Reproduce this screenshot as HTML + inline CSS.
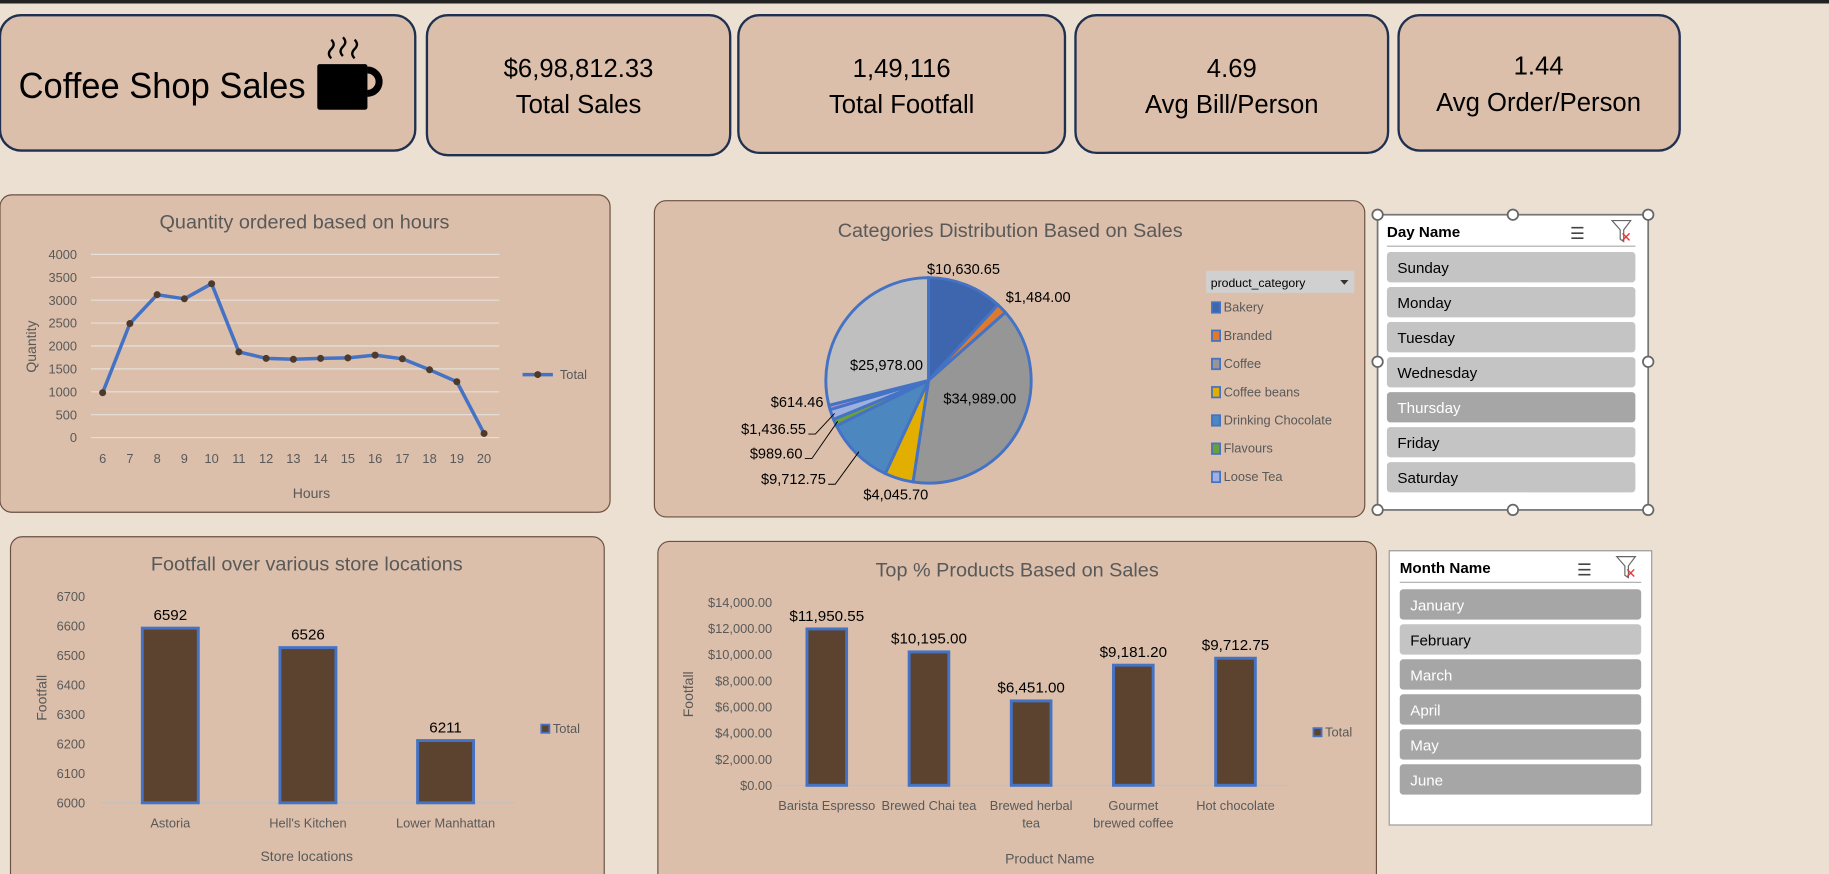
<!DOCTYPE html>
<html><head><meta charset="utf-8"><style>
html,body{margin:0;padding:0;background:#ebe0d2;overflow:hidden}
svg{display:block;font-family:"Liberation Sans",sans-serif}
</style></head><body>
<svg id="s" width="1829" height="874" viewBox="0 0 1568 749" preserveAspectRatio="none">
<rect x="0" y="0" width="1568" height="749" fill="#ebe0d2"/>
<rect x="0" y="0" width="1568" height="3" fill="#222"/>
<g>
<rect x="0" y="13" width="356" height="116" rx="18" fill="#dbbfaa" stroke="#1f3050" stroke-width="2"/>
<text x="16" y="84" font-size="31" fill="#000" textLength="246" lengthAdjust="spacingAndGlyphs">Coffee Shop Sales</text>
<g>
<rect x="272" y="55" width="43" height="39" rx="2" fill="#000"/>
<path d="M315 60 a10 10 0 0 1 0 20" fill="none" stroke="#000" stroke-width="6"/>
<path d="M284 50 q-4 -4 0 -8 q4 -4 0 -8 M294 48 q-4 -4 0 -8 q4 -4 0 -8 M304 50 q-4 -4 0 -8 q4 -4 0 -8" fill="none" stroke="#000" stroke-width="2"/>
</g></g>
<g>
<rect x="366" y="13" width="260" height="120" rx="18" fill="#dbbfaa" stroke="#1f3050" stroke-width="2"/>
<text x="496" y="66" font-size="22" text-anchor="middle">$6,98,812.33</text>
<text x="496" y="97" font-size="22" text-anchor="middle">Total Sales</text></g>
<g>
<rect x="633" y="13" width="280" height="118" rx="18" fill="#dbbfaa" stroke="#1f3050" stroke-width="2"/>
<text x="773" y="66" font-size="22" text-anchor="middle">1,49,116</text>
<text x="773" y="97" font-size="22" text-anchor="middle">Total Footfall</text></g>
<g>
<rect x="922" y="13" width="268" height="118" rx="18" fill="#dbbfaa" stroke="#1f3050" stroke-width="2"/>
<text x="1056" y="66" font-size="22" text-anchor="middle">4.69</text>
<text x="1056" y="97" font-size="22" text-anchor="middle">Avg Bill/Person</text></g>
<g>
<rect x="1199" y="13" width="241" height="116" rx="18" fill="#dbbfaa" stroke="#1f3050" stroke-width="2"/>
<text x="1319" y="64" font-size="22" text-anchor="middle">1.44</text>
<text x="1319" y="95" font-size="22" text-anchor="middle">Avg Order/Person</text></g>

<g id="lineChart">
<rect x="0" y="167" width="523" height="272" rx="10" fill="#dbbfaa" stroke="#6b5040" stroke-width="1"/>
<text x="261" y="196" font-size="17" fill="#595959" text-anchor="middle">Quantity ordered based on hours</text>
<text x="267" y="427" font-size="12" fill="#595959" text-anchor="middle">Hours</text>
<text transform="translate(31,297) rotate(-90)" font-size="12" fill="#595959" text-anchor="middle">Quantity</text>
<g><line x1="448" y1="321" x2="474" y2="321" stroke="#4472c4" stroke-width="3"/><circle cx="461" cy="321" r="3" fill="#4d3a2c"/><text x="480" y="325" font-size="11" fill="#595959">Total</text></g>
</g>

<g id="pieChart">
<rect x="561" y="172" width="609" height="271" rx="10" fill="#dbbfaa" stroke="#6b5040" stroke-width="1"/>
<text x="866" y="203" font-size="17" fill="#595959" text-anchor="middle">Categories Distribution Based on Sales</text>
<g><rect x="1034" y="232" width="127" height="19" fill="#d0d0d0"/><text x="1038" y="246" font-size="10.5" fill="#000">product_category</text><path d="M1149 240 l7 0 l-3.5 4z" fill="#333"/></g>
</g>

<g id="footChart">
<rect x="9" y="460" width="509" height="300" rx="10" fill="#dbbfaa" stroke="#6b5040" stroke-width="1"/>
<text x="263" y="489" font-size="17" fill="#595959" text-anchor="middle">Footfall over various store locations</text>
<text x="263" y="738" font-size="12" fill="#595959" text-anchor="middle">Store locations</text>
<text transform="translate(40,598) rotate(-90)" font-size="12" fill="#595959" text-anchor="middle">Footfall</text>
<g><rect x="464" y="621" width="7" height="7" fill="#5c4330" stroke="#4472c4" stroke-width="1.5"/><text x="474" y="628" font-size="11" fill="#595959">Total</text></g>
</g>

<g id="prodChart">
<rect x="564" y="464" width="616" height="296" rx="10" fill="#dbbfaa" stroke="#6b5040" stroke-width="1"/>
<text x="872" y="494" font-size="17" fill="#595959" text-anchor="middle">Top % Products Based on Sales</text>
<text x="900" y="740" font-size="12" fill="#595959" text-anchor="middle">Product Name</text>
<text transform="translate(594,595) rotate(-90)" font-size="12" fill="#595959" text-anchor="middle">Footfall</text>
<g><rect x="1126" y="624" width="7" height="7" fill="#5c4330" stroke="#4472c4" stroke-width="1.5"/><text x="1136" y="631" font-size="11" fill="#595959">Total</text></g>
</g>

<g id="daySlicer">
<rect x="1181" y="184" width="232" height="253" fill="#fff" stroke="#777" stroke-width="1.5"/>
<text x="1189" y="203" font-size="13" font-weight="bold">Day Name</text>
<line x1="1189" y1="211" x2="1402" y2="211" stroke="#aaa"/>
<text x="1346" y="205" font-size="14" fill="#444">☰</text>
<g><path d="M1382 189 h16 l-6 8 v10 l-3 -2 v-8z" fill="none" stroke="#666"/><path d="M1391 200 l6 6 M1397 200 l-6 6" stroke="#e33" stroke-width="1.2"/></g>
</g>
<g id="monthSlicer">
<rect x="1191" y="472" width="225" height="235" fill="#fff" stroke="#999" stroke-width="1"/>
<text x="1200" y="491" font-size="13" font-weight="bold">Month Name</text>
<line x1="1200" y1="499" x2="1407" y2="499" stroke="#aaa"/>
<text x="1352" y="493" font-size="14" fill="#444">☰</text>
<g><path d="M1386 477 h16 l-6 8 v10 l-3 -2 v-8z" fill="none" stroke="#666"/><path d="M1395 488 l6 6 M1401 488 l-6 6" stroke="#e33" stroke-width="1.2"/></g>
</g>
</svg>
<script>
const hours=[6,7,8,9,10,11,12,13,14,15,16,17,18,19,20];
const quantity=[980,2490,3120,3030,3360,1870,1730,1710,1730,1740,1800,1720,1480,1220,90];
const qtyTicks=[0,500,1000,1500,2000,2500,3000,3500,4000];
const pieLabels=["Bakery","Branded","Coffee","Coffee beans","Drinking Chocolate","Flavours","Loose Tea","Packaged Chocolate","Tea"];
const pieValues=[10630.65,1484.00,34989.00,4045.70,9712.75,989.60,1436.55,614.46,25978.00];
const pieColors=["#3d66ae","#dd7a30","#969696","#e2ae00","#4d87c0","#6a9f3c","#9db0e0","#b08fd0","#bfbfbf"];
const stores=["Astoria","Hell's Kitchen","Lower Manhattan"];
const footfall=[6592,6526,6211];
const footTicks=[6000,6100,6200,6300,6400,6500,6600,6700];
const products=[["Barista Espresso"],["Brewed Chai tea"],["Brewed herbal","tea"],["Gourmet","brewed coffee"],["Hot chocolate"]];
const productSales=[11950.55,10195.00,6451.00,9181.20,9712.75];
const salesTicks=[0,2000,4000,6000,8000,10000,12000,14000];
const days=["Sunday","Monday","Tuesday","Wednesday","Thursday","Friday","Saturday"];
const daySel=[0,0,0,0,1,0,0];
const months=["January","February","March","April","May","June"];
const monthSel=[1,0,1,1,1,1];

const NS="http://www.w3.org/2000/svg";
function mk(p,tag,a,txt){const e=document.createElementNS(NS,tag);for(const k in a)e.setAttribute(k,a[k]);if(txt!==undefined)e.textContent=txt;p.appendChild(e);return e;}
const fmt=v=>"$"+v.toLocaleString("en-US",{minimumFractionDigits:2,maximumFractionDigits:2});

(function(){
const g=document.getElementById('lineChart');
const x0=88,x1=415,y0=375,y1=218;
const xs=i=>x0+(x1-x0)*i/(hours.length-1);
const ys=v=>y0-(y0-y1)*v/4000;
qtyTicks.forEach(t=>{const l=mk(g,'line',{x1:78,x2:428,y1:ys(t),y2:ys(t),stroke:'#e6e0da','stroke-width':1});

const tx=mk(g,'text',{x:66,y:ys(t)+4,'font-size':11,fill:'#595959','text-anchor':'end'},t);
});
hours.forEach((h,i)=>{const tx=mk(g,'text',{x:xs(i),y:397,'font-size':11,fill:'#595959','text-anchor':'middle'},h);
});
const pl=mk(g,'polyline',{points:quantity.map((v,i)=>xs(i)+','+ys(v)).join(' '),fill:'none',stroke:'#4472c4','stroke-width':3,'stroke-linejoin':'round'});

quantity.forEach((v,i)=>{const c=mk(g,'circle',{cx:xs(i),cy:ys(v),r:3,fill:'#4d3a2c'});
});
})();

(function(){
const g=document.getElementById('pieChart');
const cx=796,cy=326,r=88;
const tot=pieValues.reduce((a,b)=>a+b,0);
let a=0;
const pt=(ang,rr)=>[cx+rr*Math.sin(ang),cy-rr*Math.cos(ang)];
const labelPos=[[826,235,'middle'],[890,259,'middle'],[840,346,'middle'],[768,428,'middle'],[708,415,'end'],[688,393,'end'],[691,372,'end'],[706,349,'end'],[760,317,'middle']];
pieValues.forEach((v,i)=>{
 const a2=a+v/tot*2*Math.PI;
 const [sx,sy]=pt(a,r),[ex,ey]=pt(a2,r);
 const p=mk(g,'path',{d:`M${cx},${cy} L${sx},${sy} A${r},${r} 0 ${a2-a>Math.PI?1:0} 1 ${ex},${ey} Z`,fill:pieColors[i],stroke:'#4472c4','stroke-width':2.5});
 
 const lp=labelPos[i];
 const t=mk(g,'text',{x:lp[0],y:lp[1],'font-size':12.5,fill:'#000','text-anchor':lp[2]},fmt(v));
 
 if(i>=4&&i<=6){const [mx,my]=pt((a+a2)/2,r*0.97);
  const ln=mk(g,'polyline',{points:`${lp[0]+2},${lp[1]} ${lp[0]+8},${lp[1]} ${mx},${my}`,fill:'none',stroke:'#000','stroke-width':0.8});
  }
 a=a2;});
pieLabels.slice(0,7).forEach((n,i)=>{const y=263+i*24.2;
 const s=mk(g,'rect',{x:1039,y:y-4,width:7,height:9,fill:pieColors[i],stroke:'#4472c4','stroke-width':1.5});
 
 const t=mk(g,'text',{x:1049,y:y+4,'font-size':11,fill:'#595959'},n);
 });
})();

function barChart(id,cats,vals,ticks,opt){
const g=document.getElementById(id);
const ys=v=>opt.y0-(opt.y0-opt.y1)*(v-ticks[0])/(ticks[ticks.length-1]-ticks[0]);
ticks.forEach(t=>{const tx=mk(g,'text',{x:opt.tickX,y:ys(t)+4,'font-size':11,fill:'#595959','text-anchor':'end'},opt.tf(t));
});
const ax=mk(g,'line',{x1:opt.xa,x2:opt.xb,y1:opt.y0,y2:opt.y0,stroke:'#bfbfbf'});

const step=(opt.xb-opt.xa)/cats.length;
vals.forEach((v,i)=>{const c=opt.xa+step*(i+0.5);
 const b=mk(g,'rect',{x:c-opt.bw/2,y:ys(v),width:opt.bw,height:opt.y0-ys(v),fill:'#5c4330',stroke:'#4472c4','stroke-width':2.5});
 
 const t=mk(g,'text',{x:c,y:ys(v)-7,'font-size':13,fill:'#000','text-anchor':'middle'},opt.vf(v));
 
 const lines=[].concat(cats[i]);
 lines.forEach((ln,j)=>{const x=mk(g,'text',{x:c,y:opt.y0+21+j*15,'font-size':11,fill:'#595959','text-anchor':'middle'},ln);
 });});
}
barChart('footChart',stores,footfall,footTicks,{y0:688,y1:511,tickX:73,xa:87,xb:441,bw:48,tf:t=>t,vf:v=>v});
barChart('prodChart',products,productSales,salesTicks,{y0:673,y1:516,tickX:662,xa:665,xb:1103,bw:34,tf:t=>fmt(t),vf:v=>fmt(v)});

function slicer(id,items,sel,x,w,y0){
const g=document.getElementById(id);
items.forEach((n,i)=>{const y=y0+i*30;
 const r=mk(g,'rect',{x:x,y:y,width:w,height:26,rx:3,fill:sel[i]?'#a6a6a6':'#c4c4c4'});
 
 const t=mk(g,'text',{x:x+9,y:y+18,'font-size':13,fill:sel[i]?'#fff':'#000'},n);
 });
}
slicer('daySlicer',days,daySel,1189,213,216);
slicer('monthSlicer',months,monthSel,1200,207,505);
const s=document.getElementById('daySlicer');
[[1181,184],[1297,184],[1413,184],[1181,310],[1413,310],[1181,437],[1297,437],[1413,437]].forEach(p=>{
 const c=mk(s,'circle',{cx:p[0],cy:p[1],r:4.5,fill:'#fff',stroke:'#666','stroke-width':1.5});
 });
</script>
</body></html>
